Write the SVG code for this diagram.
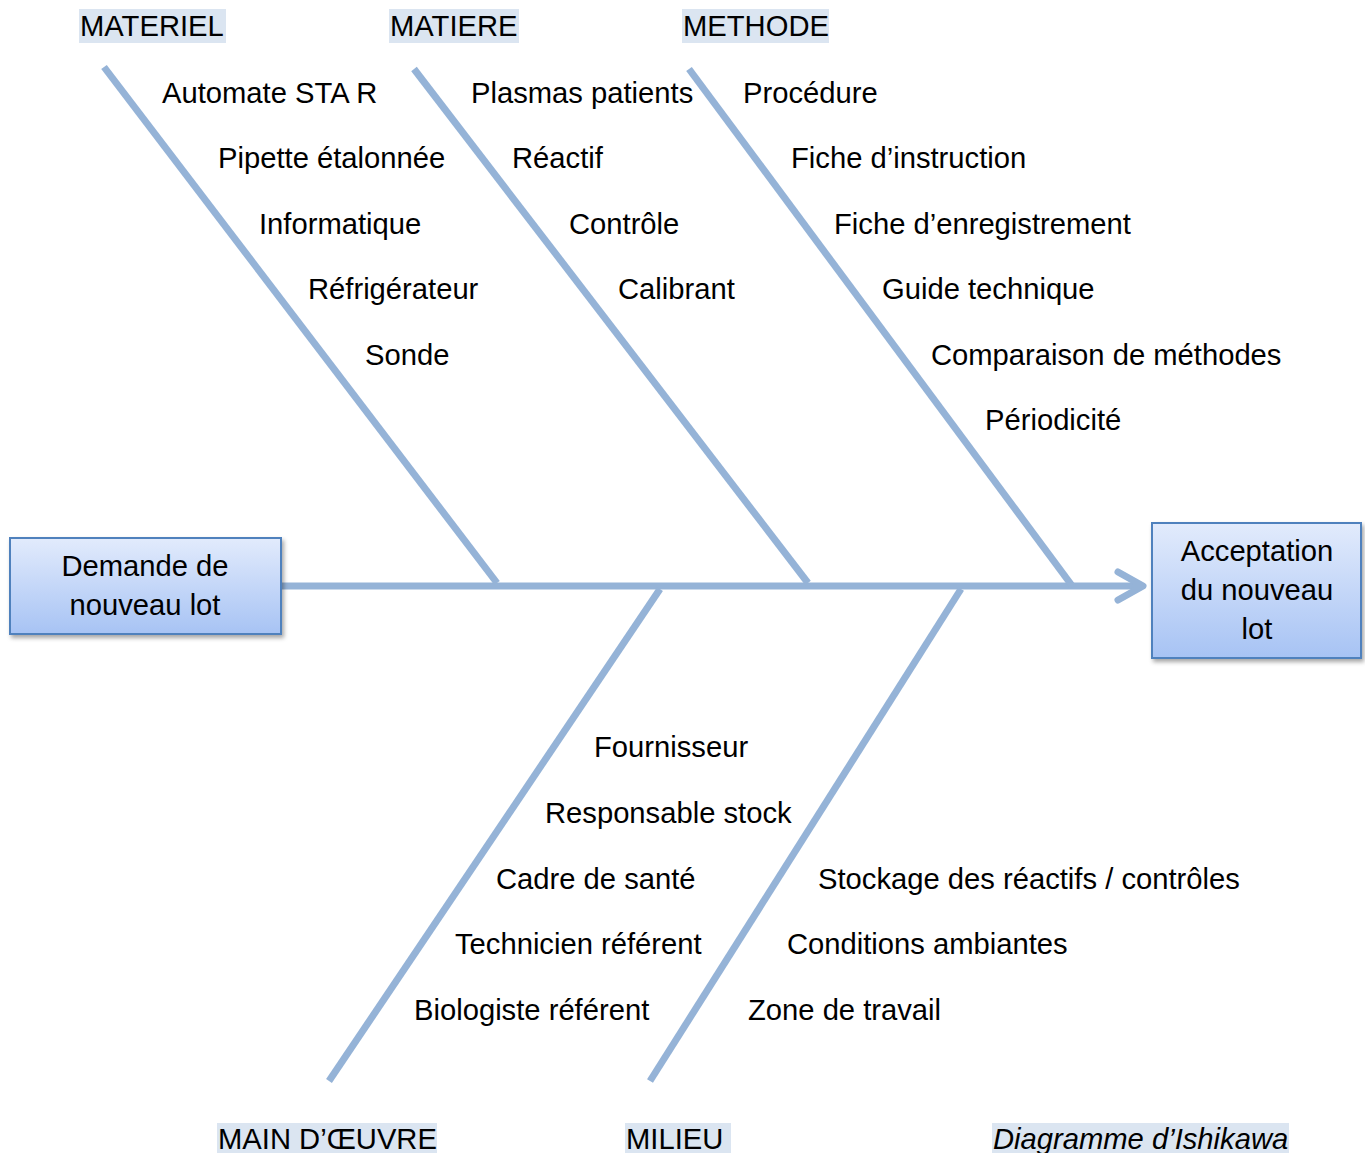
<svg xmlns="http://www.w3.org/2000/svg" width="1365" height="1153" viewBox="0 0 1365 1153">
<style>
.t{font-family:"Liberation Sans",Arial,sans-serif;font-size:29.2px;fill:#000}
.c{text-anchor:middle}
.hl{fill:#dbe5f1}
.ln{stroke:#95b3d7;stroke-width:7;fill:none}
.box{stroke:#4f81bd;stroke-width:2;fill:url(#g)}
</style>
<defs>
<linearGradient id="g" x1="0" y1="0" x2="0" y2="1">
<stop offset="0" stop-color="#e2ebfc"/>
<stop offset="1" stop-color="#a7c3f4"/>
</linearGradient>
<filter id="sh" x="-10%" y="-10%" width="130%" height="140%">
<feDropShadow dx="2" dy="3" stdDeviation="2" flood-color="#000" flood-opacity="0.35"/>
</filter>
</defs>
<rect width="1365" height="1153" fill="#fff"/>
<g id="connectors">
<line class="ln" x1="281" y1="586" x2="1143" y2="586"/>
<polyline class="ln" points="1118,572 1143,586 1118,600" stroke-linecap="round" stroke-linejoin="round"/>
<line class="ln" x1="104" y1="67" x2="497" y2="583"/>
<line class="ln" x1="414" y1="69" x2="808" y2="583"/>
<line class="ln" x1="689" y1="69" x2="1073" y2="587"/>
<line class="ln" x1="660" y1="589" x2="329" y2="1081"/>
<line class="ln" x1="961" y1="589" x2="650" y2="1081"/>
</g>
<g id="node-demande">
<rect class="box" x="10" y="538" width="271" height="96" filter="url(#sh)"/>
<text class="t c" x="145" y="576">Demande de</text>
<text class="t c" x="145" y="615">nouveau lot</text>
</g>
<g id="node-acceptation">
<rect class="box" x="1152" y="523" width="209" height="135" filter="url(#sh)"/>
<text class="t c" x="1257" y="561">Acceptation</text>
<text class="t c" x="1257" y="600">du nouveau</text>
<text class="t c" x="1257" y="639">lot</text>
</g>
<g id="cat-materiel">
<rect class="hl" x="79" y="9" width="147" height="34"/>
<text class="t" x="80" y="36">MATERIEL</text>
<text class="t" x="162" y="103">Automate STA R</text>
<text class="t" x="218" y="168">Pipette étalonnée</text>
<text class="t" x="259" y="234">Informatique</text>
<text class="t" x="308" y="299">Réfrigérateur</text>
<text class="t" x="365" y="365">Sonde</text>
</g>
<g id="cat-matiere">
<rect class="hl" x="389" y="9" width="130" height="34"/>
<text class="t" x="390" y="36">MATIERE</text>
<text class="t" x="471" y="103">Plasmas patients</text>
<text class="t" x="512" y="168">Réactif</text>
<text class="t" x="569" y="234">Contrôle</text>
<text class="t" x="618" y="299">Calibrant</text>
</g>
<g id="cat-methode">
<rect class="hl" x="682" y="9" width="147" height="34"/>
<text class="t" x="683" y="36">METHODE</text>
<text class="t" x="743" y="103">Procédure</text>
<text class="t" x="791" y="168">Fiche d’instruction</text>
<text class="t" x="834" y="234">Fiche d’enregistrement</text>
<text class="t" x="882" y="299">Guide technique</text>
<text class="t" x="931" y="365">Comparaison de méthodes</text>
<text class="t" x="985" y="430">Périodicité</text>
</g>
<g id="cat-main-oeuvre">
<rect class="hl" x="217" y="1123" width="220" height="30"/>
<text class="t" x="218" y="1149">MAIN D’ŒUVRE</text>
<text class="t" x="594" y="757">Fournisseur</text>
<text class="t" x="545" y="823">Responsable stock</text>
<text class="t" x="496" y="889">Cadre de santé</text>
<text class="t" x="455" y="954">Technicien référent</text>
<text class="t" x="414" y="1020">Biologiste référent</text>
</g>
<g id="cat-milieu">
<rect class="hl" x="625" y="1123" width="106" height="30"/>
<text class="t" x="626" y="1149">MILIEU</text>
<text class="t" x="818" y="889">Stockage des réactifs / contrôles</text>
<text class="t" x="787" y="954">Conditions ambiantes</text>
<text class="t" x="748" y="1020">Zone de travail</text>
</g>
<g id="caption">
<rect class="hl" x="992" y="1123" width="297" height="30"/>
<text class="t" x="993" y="1149" font-style="italic">Diagramme d’Ishikawa</text>
</g>
</svg>
